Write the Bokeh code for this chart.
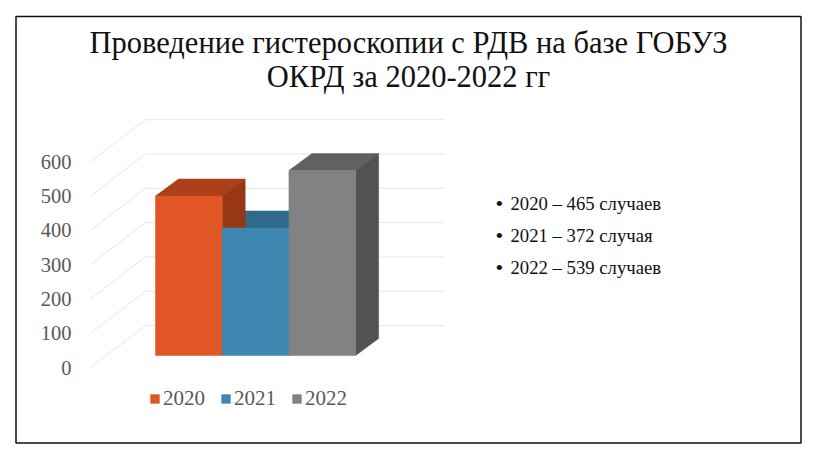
from bokeh.plotting import figure
from bokeh.models import Range1d, LinearAxis, FixedTicker, Legend, LegendItem
from bokeh.core.properties import value
from bokeh.embed import file_html
from bokeh.resources import INLINE

years = ["2020", "2021", "2022"]
cases = [465, 372, 539]
words = ["случаев", "случая", "случаев"]
ticks = [0, 100, 200, 300, 400, 500, 600]
title_lines = ["Проведение гистероскопии с РДВ на базе ГОБУЗ", "ОКРД за 2020-2022 гг"]
front = ["#E05624", "#3E87B1", "#828284"]
top = ["#AB3F1A", "#2F6A8C", "#616163"]
side = ["#973716", "#28597A", "#525254"]

SERIF = "Liberation Serif"
PX = 0.343          # pixels per unit of value
BAR_W = 66.7        # pixels per category
W, H = 804, 445

p = figure(width=W, height=H, output_backend="svg", toolbar_location=None,
           x_range=Range1d(0, W), y_range=Range1d(H, 0),
           x_axis_location=None, y_axis_location=None,
           min_border=0, background_fill_color="white", outline_line_color=None)
p.grid.visible = False

# value scale of the bars (base at y=355) and of the floor front edge (y=367)
p.extra_y_ranges["bars"] = Range1d((355 - H) / PX, 355 / PX)
p.extra_y_ranges["axis"] = Range1d((367 - H) / PX, 367 / PX)
p.extra_x_ranges["cat"] = Range1d(-155 / BAR_W, (W - 155) / BAR_W)

# slide border
p.quad(left=[15.5], right=[800.5], top=[16], bottom=[442.5],
       fill_color=None, line_color="#111111", line_width=1.5)

# walls: gridlines
dy_wall = 42 / PX
for t in ticks:
    p.line([90, 145, 444], [t, t + dy_wall, t + dy_wall], y_range_name="axis",
           line_color="#E7E7E7", line_width=1)

# value axis
ax = LinearAxis(y_range_name="axis", fixed_location=90,
                ticker=FixedTicker(ticks=ticks),
                axis_line_color=None, major_tick_line_color=None, minor_tick_line_color=None,
                major_label_text_font=SERIF, major_label_text_font_size="20.5px",
                major_label_text_color="#595959", major_label_standoff=13)
p.add_layout(ax, "left")

# bars: tops and sides first, fronts over them
ddx, ddy = 23 / BAR_W, 17 / PX
for i in [1, 0, 2]:
    v = cases[i]
    l, r = i, i + 1
    p.patch([l, r, r + ddx, l + ddx], [v, v, v + ddy, v + ddy], x_range_name="cat",
            y_range_name="bars", fill_color=top[i], line_color=top[i], line_width=0.5)
    p.patch([r, r + ddx, r + ddx, r], [0, ddy, v + ddy, v], x_range_name="cat",
            y_range_name="bars", fill_color=side[i], line_color=side[i], line_width=0.5)
fronts = {}
for i in range(3):
    fronts[i] = p.quad(left=[i], right=[i + 1], bottom=[0], top=[cases[i]], x_range_name="cat",
                       y_range_name="bars", fill_color=front[i], line_color=front[i], line_width=0.5)

legend = Legend(items=[LegendItem(label=years[i], renderers=[fronts[i]]) for i in range(3)],
                orientation="horizontal", location=(149, 34),
                border_line_color=None, background_fill_color=None,
                glyph_width=11, glyph_height=11, label_standoff=3, spacing=15, padding=0, margin=0,
                label_text_font=SERIF, label_text_font_size="21px", label_text_color="#595959")
p.add_layout(legend, "center")

# title
for line, y in zip(title_lines, [42, 76]):
    p.text([408], [y], text=[line], text_font=value(SERIF), text_font_size="30.5px",
           text_color="#111111", text_align="center", text_baseline="middle")

# notes
for y, yr, c, w in zip([203, 235, 267], years, cases, words):
    p.text([495], [y], text=["•"], text_font=value(SERIF), text_font_size="22px",
           text_color="#111111", text_align="left", text_baseline="middle")
    p.text([510], [y], text=[f"{yr} – {c} {w}"], text_font=value(SERIF), text_font_size="18.7px",
           text_color="#111111", text_align="left", text_baseline="middle")

open("out.html", "w").write(file_html(p, INLINE))
